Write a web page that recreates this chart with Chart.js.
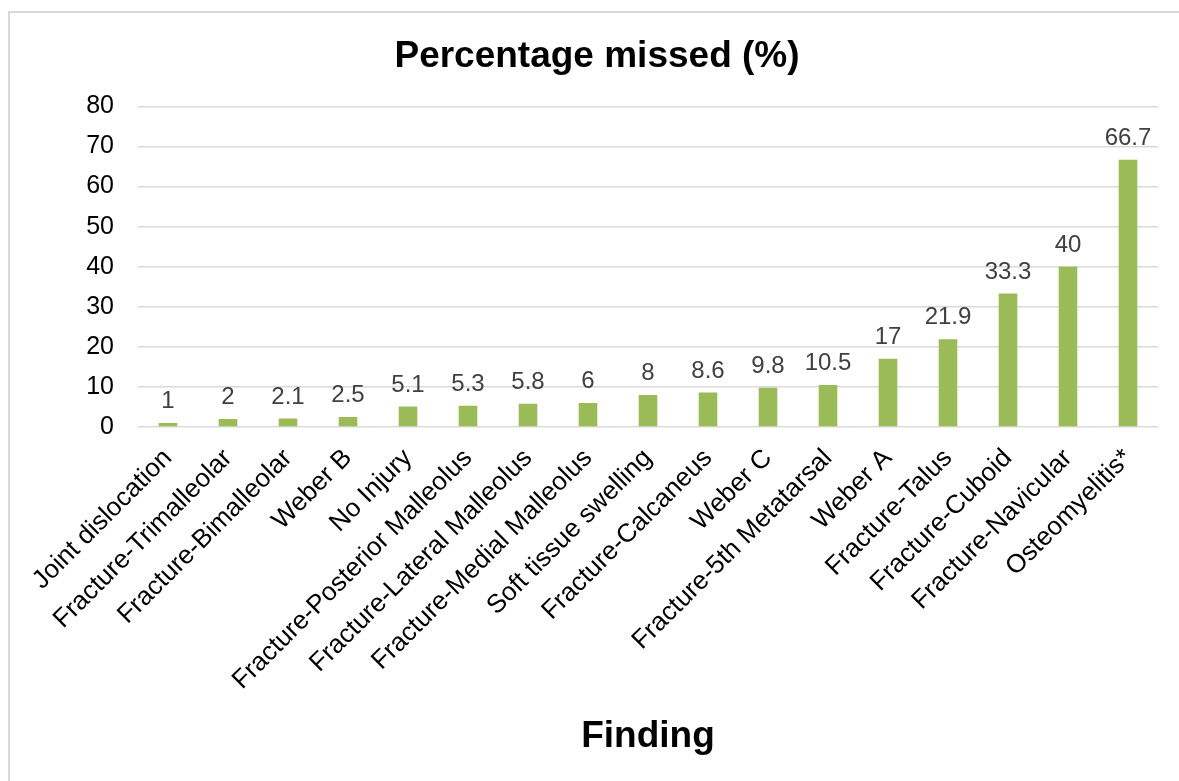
<!DOCTYPE html>
<html>
<head>
<meta charset="utf-8">
<script src="https://cdn.jsdelivr.net/npm/chart.js@4.4.1/dist/chart.umd.min.js"></script>
<style>
  html, body { margin: 0; padding: 0; background: #fff; }
  #wrap { position: relative; width: 1179px; height: 781px; overflow: hidden; }
  #frame {
    position: absolute; left: 8px; top: 11px; width: 1300px; height: 900px;
    border-left: 2px solid #d9d9d9; border-top: 2px solid #d9d9d9;
  }
  #chart { position: absolute; left: 0; top: 0; }
</style>
</head>
<body>
<div id="wrap">
  <div id="frame"></div>
  <canvas id="chart" width="1179" height="781"></canvas>
</div>
<script>
// findings, sorted by share missed
const findings = [
  'Joint dislocation', 'Fracture-Trimalleolar', 'Fracture-Bimalleolar', 'Weber B',
  'No Injury', 'Fracture-Posterior Malleolus', 'Fracture-Lateral Malleolus',
  'Fracture-Medial Malleolus', 'Soft tissue swelling', 'Fracture-Calcaneus',
  'Weber C', 'Fracture-5th Metatarsal', 'Weber A', 'Fracture-Talus',
  'Fracture-Cuboid', 'Fracture-Navicular', 'Osteomyelitis*'
];
const percentMissed = [1, 2, 2.1, 2.5, 5.1, 5.3, 5.8, 6, 8, 8.6, 9.8, 10.5, 17, 21.9, 33.3, 40, 66.7];
const yTicks = [0, 10, 20, 30, 40, 50, 60, 70, 80];

const font = 'Arial, "Liberation Sans", sans-serif';

// writes each bar's value just above it
const valueLabels = {
  id: 'valueLabels',
  afterDatasetsDraw(chart) {
    const ctx = chart.ctx;
    const meta = chart.getDatasetMeta(0);
    ctx.save();
    ctx.font = '24px ' + font;
    ctx.fillStyle = '#404040';
    ctx.textAlign = 'center';
    ctx.textBaseline = 'alphabetic';
    meta.data.forEach((bar, i) => {
      ctx.fillText(String(percentMissed[i]), bar.x, bar.y - 15);
    });
    ctx.restore();
  }
};

Chart.defaults.font.family = font;
Chart.defaults.color = '#000';

new Chart(document.getElementById('chart'), {
  type: 'bar',
  data: {
    labels: findings,
    datasets: [{
      data: percentMissed,
      backgroundColor: '#9bbb59',
      barPercentage: 0.31,
      categoryPercentage: 1
    }]
  },
  options: {
    responsive: false,
    animation: false,
    devicePixelRatio: 1,
    layout: { padding: { left: 36, right: 21, top: 12, bottom: 14 } },
    plugins: {
      legend: { display: false },
      tooltip: { enabled: false },
      title: {
        display: true,
        text: 'Percentage missed (%)',
        color: '#000',
        font: { size: 37, weight: 'bold' },
        padding: { top: 23, bottom: 27 }
      }
    },
    scales: {
      x: {
        grid: { display: false, drawTicks: false },
        border: { display: false },
        ticks: {
          autoSkip: false,
          maxRotation: 45,
          minRotation: 45,
          padding: 16,
          color: '#000',
          font: { size: 26 }
        },
        title: {
          display: true,
          text: 'Finding',
          color: '#000',
          font: { size: 37, weight: 'bold' },
          padding: { top: 6, bottom: 8 }
        },
        // fixed band below the plot; long labels may run into the left margin
        afterFit(scale) {
          scale.height = 340;
          scale.paddingLeft = 0;
          scale.paddingRight = 0;
        }
      },
      y: {
        min: 0,
        max: 80,
        afterBuildTicks(scale) {
          scale.ticks = yTicks.map(v => ({ value: v }));
        },
        afterFit(scale) {
          scale.width = 102;
        },
        grid: { color: '#d9d9d9', lineWidth: 1.5, drawTicks: false },
        border: { display: false },
        ticks: {
          padding: 24,
          color: '#000',
          font: { size: 25 }
        }
      }
    }
  },
  plugins: [valueLabels]
});
</script>
</body>
</html>
